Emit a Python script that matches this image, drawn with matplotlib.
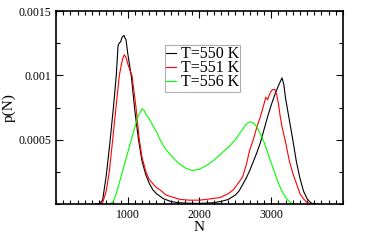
import matplotlib
matplotlib.use("Agg")
import matplotlib.pyplot as plt
from matplotlib.ticker import MultipleLocator, FixedLocator

plt.rcParams['font.family'] = ['Liberation Serif', 'DejaVu Serif']

# T = 550 K
n550 = [550, 600, 650, 700, 750, 800, 840, 865, 880, 900, 925, 950, 960, 975, 1000,
        1025, 1050, 1100, 1150, 1200, 1250, 1300, 1350, 1400, 1450, 1500, 1600, 1700,
        1800, 1900, 2000, 2100, 2200, 2300, 2400, 2500, 2550, 2600, 2650, 2700, 2750,
        2800, 2850, 2900, 2950, 3000, 3050, 3100, 3125, 3150, 3175, 3200, 3250, 3300,
        3350, 3400, 3450, 3500, 3550, 3600, 3650]
p550 = [0, 0, 0.00003, 0.00022, 0.00047, 0.00075, 0.00100, 0.00123, 0.00125, 0.00126,
        0.00130, 0.00131, 0.00129, 0.00128, 0.00117, 0.00108, 0.00099, 0.00072, 0.00050,
        0.00033, 0.00023, 0.00016, 0.00011, 0.00008, 0.00006, 0.00004, 0.00002, 0.00001,
        0.000007, 0.000005, 0.000005, 0.000007, 0.00001, 0.00002, 0.000035, 0.00007,
        0.00010, 0.00015, 0.00020, 0.00026, 0.00033, 0.00040, 0.00048, 0.00058, 0.00068,
        0.00077, 0.00085, 0.00092, 0.00095, 0.00098, 0.00093, 0.00082, 0.00066, 0.00050,
        0.00033, 0.00020, 0.00010, 0.00004, 0.00001, 0, 0]

# T = 551 K
n551 = [550, 600, 650, 700, 743, 790, 836, 883, 910, 930, 952, 975, 1000, 1030, 1059,
        1115, 1161, 1200, 1254, 1300, 1394, 1450, 1533, 1589, 1728, 1850, 2007, 2150,
        2286, 2400, 2471, 2550, 2600, 2650, 2700, 2750, 2800, 2850, 2900, 2925, 2950,
        2975, 3000, 3025, 3050, 3075, 3100, 3125, 3150, 3200, 3250, 3300, 3350, 3400,
        3450, 3500, 3550, 3600]
p551 = [0, 0, 0.00001, 0.00010, 0.00025, 0.00050, 0.00075, 0.00100, 0.00108, 0.00113,
        0.00116, 0.00114, 0.00109, 0.00104, 0.00100, 0.00075, 0.00050, 0.00036, 0.00025,
        0.00019, 0.00013, 0.00011, 0.00007, 0.00006, 0.000036, 0.00003, 0.00003, 0.00004,
        0.00005, 0.00008, 0.00011, 0.00017, 0.00021, 0.00030, 0.00042, 0.00050, 0.00060,
        0.00068, 0.00078, 0.00083, 0.00081, 0.00085, 0.00088, 0.00089, 0.00089, 0.00085,
        0.00078, 0.00068, 0.00060, 0.00048, 0.00034, 0.00024, 0.00016, 0.00008, 0.00004,
        0.00001, 0, 0]

# T = 556 K
n556 = [700, 750, 800, 850, 900, 950, 1000, 1050, 1100, 1150, 1200, 1225, 1250, 1300,
        1350, 1400, 1450, 1500, 1550, 1600, 1700, 1800, 1900, 2000, 2100, 2200, 2300,
        2400, 2500, 2600, 2650, 2700, 2750, 2800, 2850, 2900, 2950, 3000, 3050, 3100,
        3150, 3200, 3250, 3300, 3350]
p556 = [0, 0, 0.00002, 0.00010, 0.00020, 0.00030, 0.00040, 0.00050, 0.00060, 0.00069,
        0.00074, 0.00073, 0.00070, 0.00066, 0.00061, 0.00056, 0.00050, 0.00045, 0.00041,
        0.00038, 0.00032, 0.00028, 0.00026, 0.00027, 0.00030, 0.00034, 0.00039, 0.00044,
        0.00050, 0.00058, 0.00062, 0.00064, 0.00063, 0.00060, 0.00054, 0.00048, 0.00040,
        0.00032, 0.00024, 0.00016, 0.00010, 0.00005, 0.00002, 0, 0]

labels = ["T=550 K", "T=551 K", "T=556 K"]
colors = ["#000000", "#ff0000", "#00ff00"]
xticks = [1000, 2000, 3000]
xticklabels = ["1000", "2000", "3000"]
yticks = [0.0005, 0.001, 0.0015]
yticklabels = ["0.0005", "0.001", "0.0015"]

fig = plt.figure(figsize=(3.74, 2.42), dpi=100)
ax = fig.add_axes([56/374, 1 - 204/242, (343-56)/374, (204-11)/242])

for n, p, lab, c in zip([n550, n551, n556], [p550, p551, p556], labels, colors):
    ax.plot(n, p, color=c, lw=0.8, label=lab)

ax.set_xlim(0, 4000)
ax.set_ylim(0, 0.0015)
ax.xaxis.set_major_locator(FixedLocator(xticks))
ax.set_xticklabels(xticklabels)
ax.xaxis.set_minor_locator(MultipleLocator(100))
ax.yaxis.set_major_locator(FixedLocator(yticks))
ax.set_yticklabels(yticklabels)
ax.yaxis.set_minor_locator(MultipleLocator(0.00025))
ax.tick_params(which='both', direction='in', top=True, right=True, labelsize=8.5, width=0.8)
ax.tick_params(which='major', length=5)
ax.tick_params(which='minor', length=3)
for s in ax.spines.values():
    s.set_linewidth(1.2)

ax.set_xlabel("N", fontsize=11, labelpad=0)
ax.set_ylabel("p(N)", fontsize=11, labelpad=2)

leg = ax.legend(loc='upper left', bbox_to_anchor=(165/374, 1 - 45/242),
                bbox_transform=fig.transFigure, fontsize=11.5, frameon=True,
                fancybox=False, edgecolor='#999999', handlelength=0.6,
                handletextpad=0.3, labelspacing=-0.12, borderpad=0.08,
                borderaxespad=0)
leg.get_frame().set_linewidth(0.8)

fig.savefig("out.png", dpi=100)
